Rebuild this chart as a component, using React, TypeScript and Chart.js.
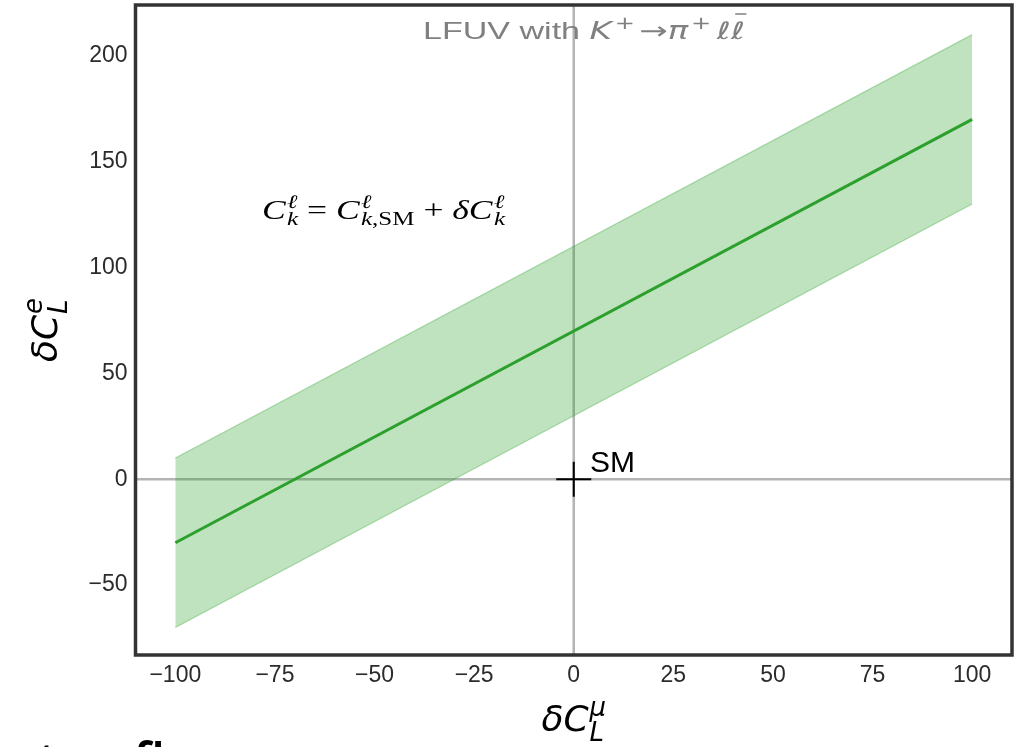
import React, { useEffect, useRef } from "react";
import { Chart, registerables } from "chart.js";

Chart.register(...registerables);

// ---- data ----
const xEnds = [-100, 100];
const centralLine = [-30, 170];
const bandLower = [-70, 130];
const bandUpper = [10, 210];
const smPoint = [0, 0];
const xTicks = [-100, -75, -50, -25, 0, 25, 50, 75, 100];
const yTicks = [-50, 0, 50, 100, 150, 200];
const xRange = [-110, 110];
const yRange = [-83, 224];

const GREEN = "#2ca02c";
const SANS = "'Liberation Sans', Arial, sans-serif";
const MATH = "'DejaVu Sans', sans-serif";
const SERIF = "'Liberation Serif', 'DejaVu Serif', serif";

type Run = { t: string; font: string; dy?: number; gap?: number };
type Item = { run: Run } | { sup: Run[]; sub: Run[] };

function runsWidth(ctx: CanvasRenderingContext2D, runs: Run[]) {
  let w = 0;
  for (const r of runs) {
    ctx.font = r.font;
    w += ctx.measureText(r.t).width + (r.gap || 0);
  }
  return w;
}

function itemsWidth(ctx: CanvasRenderingContext2D, items: Item[]) {
  let w = 0;
  for (const it of items) {
    if ("run" in it) w += runsWidth(ctx, [it.run]);
    else w += Math.max(runsWidth(ctx, it.sup), runsWidth(ctx, it.sub));
  }
  return w;
}

function drawRunList(ctx: CanvasRenderingContext2D, runs: Run[], x: number, y: number) {
  let cx = x;
  for (const r of runs) {
    ctx.font = r.font;
    ctx.fillText(r.t, cx, y + (r.dy || 0));
    cx += ctx.measureText(r.t).width + (r.gap || 0);
  }
  return cx;
}

function drawItems(ctx: CanvasRenderingContext2D, items: Item[], x: number, y: number, marks?: number[]) {
  let cx = x;
  items.forEach((it) => {
    if (marks) marks.push(cx);
    if ("run" in it) {
      cx = drawRunList(ctx, [it.run], cx, y);
    } else {
      const a = drawRunList(ctx, it.sup, cx, y);
      const b = drawRunList(ctx, it.sub, cx, y);
      cx = Math.max(a, b);
    }
  });
  if (marks) marks.push(cx);
  return cx;
}

const decor = {
  id: "decor",
  beforeDatasetsDraw(chart: any) {
    const { ctx, chartArea: a, scales } = chart;
    const x0 = scales.x.getPixelForValue(0);
    const y0 = scales.y.getPixelForValue(0);
    ctx.save();
    ctx.strokeStyle = "#b4b4b4";
    ctx.lineWidth = 2.5;
    ctx.beginPath();
    ctx.moveTo(x0, a.top);
    ctx.lineTo(x0, a.bottom);
    ctx.moveTo(a.left, y0);
    ctx.lineTo(a.right, y0);
    ctx.stroke();
    ctx.restore();
  },
  afterDraw(chart: any) {
    const { ctx, chartArea: a } = chart;
    ctx.save();
    // frame
    ctx.strokeStyle = "#333333";
    ctx.lineWidth = 3.5;
    ctx.strokeRect(a.left, a.top, a.right - a.left, a.bottom - a.top);

    ctx.textBaseline = "alphabetic";
    ctx.textAlign = "left";

    // title (horizontally fitted to the reference width)
    ctx.fillStyle = "#808080";
    const tFont = `24px ${SANS}`;
    const mI = `italic 24px ${MATH}`;
    const mR = `24px ${MATH}`;
    const sR = `17px ${MATH}`;
    const titleItems: Item[] = [
      { run: { t: "LFUV with ", font: tFont } },
      { run: { t: "K", font: mI, gap: 2 } },
      { run: { t: "+", font: sR, dy: -10, gap: 3 } },
      { run: { t: "\u2192", font: mR } },
      { run: { t: "\u03c0", font: mI, gap: 2 } },
      { run: { t: "+", font: sR, dy: -10, gap: 4 } },
      { run: { t: "\u2113", font: mI } },
      { run: { t: "\u2113", font: mI } },
    ];
    const tw = itemsWidth(ctx, titleItems);
    const tsx = 322 / tw;
    ctx.save();
    ctx.translate(423, 39);
    ctx.scale(tsx, 1);
    const marks: number[] = [];
    drawItems(ctx, titleItems, 0, 0, marks);
    ctx.strokeStyle = "#808080";
    ctx.lineWidth = 1.5;
    ctx.beginPath();
    ctx.moveTo(marks[7] + 3, -25);
    ctx.lineTo(marks[8] + 1, -25);
    ctx.stroke();
    ctx.restore();

    // equation
    ctx.fillStyle = "#000";
    const eI = `italic 27px ${SERIF}`;
    const eR = `27px ${SERIF}`;
    const sI = `italic 19px ${SERIF}`;
    const sRm = `19px ${SERIF}`;
    const supL: Run[] = [{ t: "\u2113", font: sI, dy: -11 }];
    const subK: Run[] = [{ t: "k", font: sI, dy: 6 }];
    const eqItems: Item[] = [
      { run: { t: "C", font: eI, gap: 1 } },
      { sup: supL, sub: subK },
      { run: { t: " = ", font: eR } },
      { run: { t: "C", font: eI, gap: 1 } },
      { sup: supL, sub: [{ t: "k", font: sI, dy: 6 }, { t: ",SM", font: sRm, dy: 6 }] },
      { run: { t: " + ", font: eR } },
      { run: { t: "\u03b4", font: eI } },
      { run: { t: "C", font: eI, gap: 1 } },
      { sup: supL, sub: subK },
    ];
    const ew = itemsWidth(ctx, eqItems);
    ctx.save();
    ctx.translate(262, 219);
    ctx.scale(243 / ew, 1);
    drawItems(ctx, eqItems, 0, 0);
    ctx.restore();

    // SM label
    ctx.font = `30px ${SANS}`;
    ctx.fillText("SM", 590, 472);

    // axis labels
    const lI = `italic 36px ${MATH}`;
    const lsI = `italic 26px ${MATH}`;
    const yItems: Item[] = [
      { run: { t: "\u03b4", font: lI } },
      { run: { t: "C", font: lI, gap: 1 } },
      { sup: [{ t: "e", font: lsI, dy: -15 }], sub: [{ t: "L", font: lsI, dy: 10 }] },
    ];
    const xItems: Item[] = [
      { run: { t: "\u03b4", font: lI } },
      { run: { t: "C", font: lI, gap: 1 } },
      { sup: [{ t: "\u03bc", font: lsI, dy: -15 }], sub: [{ t: "L", font: lsI, dy: 10 }] },
    ];
    const cx = (a.left + a.right) / 2;
    const cy = (a.top + a.bottom) / 2;
    const yw = itemsWidth(ctx, yItems);
    ctx.save();
    ctx.translate(57, cy);
    ctx.rotate(-Math.PI / 2);
    drawItems(ctx, yItems, -yw / 2, 0);
    ctx.restore();
    const xw = itemsWidth(ctx, xItems);
    drawItems(ctx, xItems, cx - xw / 2, 731);

    // cropped caption text at the bottom of the page
    ctx.fillStyle = "#000";
    ctx.font = `600 50px 'Open Sans', sans-serif`;
    ctx.fillText("lepton flavours", -36, 779);
    ctx.restore();
  },
};

const fmt = (v: number) => (v < 0 ? "\u2212" + Math.abs(v) : String(v));

const zeroPad = (s: any) => {
  s.paddingLeft = 0;
  s.paddingRight = 0;
  s.paddingTop = 0;
  s.paddingBottom = 0;
};

export default function App() {
  const ref = useRef<HTMLCanvasElement | null>(null);
  useEffect(() => {
    if (!ref.current) return;
    const pts = (ys: number[]) => xEnds.map((x, i) => ({ x, y: ys[i] }));
    const chart = new Chart(ref.current, {
      type: "line",
      data: {
        datasets: [
          {
            label: "SM",
            type: "scatter",
            data: [{ x: smPoint[0], y: smPoint[1] }],
            pointStyle: "cross",
            pointRadius: 17.5,
            pointBorderWidth: 2,
            borderColor: "#000",
            backgroundColor: "#000",
            order: 0,
          } as any,
          {
            label: "central",
            data: pts(centralLine),
            borderColor: GREEN,
            borderWidth: 3,
            pointRadius: 0,
            fill: false,
            order: 1,
          },
          {
            label: "upper",
            data: pts(bandUpper),
            borderColor: "rgba(44,160,44,0.35)",
            borderWidth: 1.2,
            backgroundColor: "rgba(44,160,44,0.3)",
            pointRadius: 0,
            fill: "+1",
            order: 2,
          },
          {
            label: "lower",
            data: pts(bandLower),
            borderColor: "rgba(44,160,44,0.35)",
            borderWidth: 1.2,
            pointRadius: 0,
            fill: false,
            order: 3,
          },
        ],
      },
      options: {
        responsive: false,
        animation: false,
        events: [],
        layout: { autoPadding: false, padding: { top: 5, right: 6, left: 0, bottom: 0 } },
        plugins: { legend: { display: false }, tooltip: { enabled: false } },
        scales: {
          x: {
            type: "linear",
            min: xRange[0],
            max: xRange[1],
            grid: { display: false, drawTicks: false },
            border: { display: false },
            ticks: {
              color: "#2b2b2b",
              font: { family: SANS, size: 23 },
              padding: 7,
              maxRotation: 0,
              autoSkip: false,
              callback: (v: any) => fmt(Number(v)),
            },
            afterBuildTicks: (s: any) => {
              s.ticks = xTicks.map((v) => ({ value: v }));
            },
            afterFit: (s: any) => {
              s.height = 92;
              zeroPad(s);
            },
          },
          y: {
            type: "linear",
            min: yRange[0],
            max: yRange[1],
            grid: { display: false, drawTicks: false },
            border: { display: false },
            ticks: {
              color: "#2b2b2b",
              font: { family: SANS, size: 23 },
              padding: 8,
              autoSkip: false,
              callback: (v: any) => fmt(Number(v)),
            },
            afterBuildTicks: (s: any) => {
              s.ticks = yTicks.map((v) => ({ value: v }));
            },
            afterFit: (s: any) => {
              s.width = 135.5;
              zeroPad(s);
            },
          },
        },
      },
      plugins: [decor],
    });
    return () => chart.destroy();
  }, []);
  return (
    <div style={{ position: "absolute", left: 0, top: 0, width: 1018, height: 747, overflow: "hidden", background: "#fff" }}>
      <canvas ref={ref} width={1018} height={747} style={{ display: "block", width: 1018, height: 747 }} />
    </div>
  );
}
